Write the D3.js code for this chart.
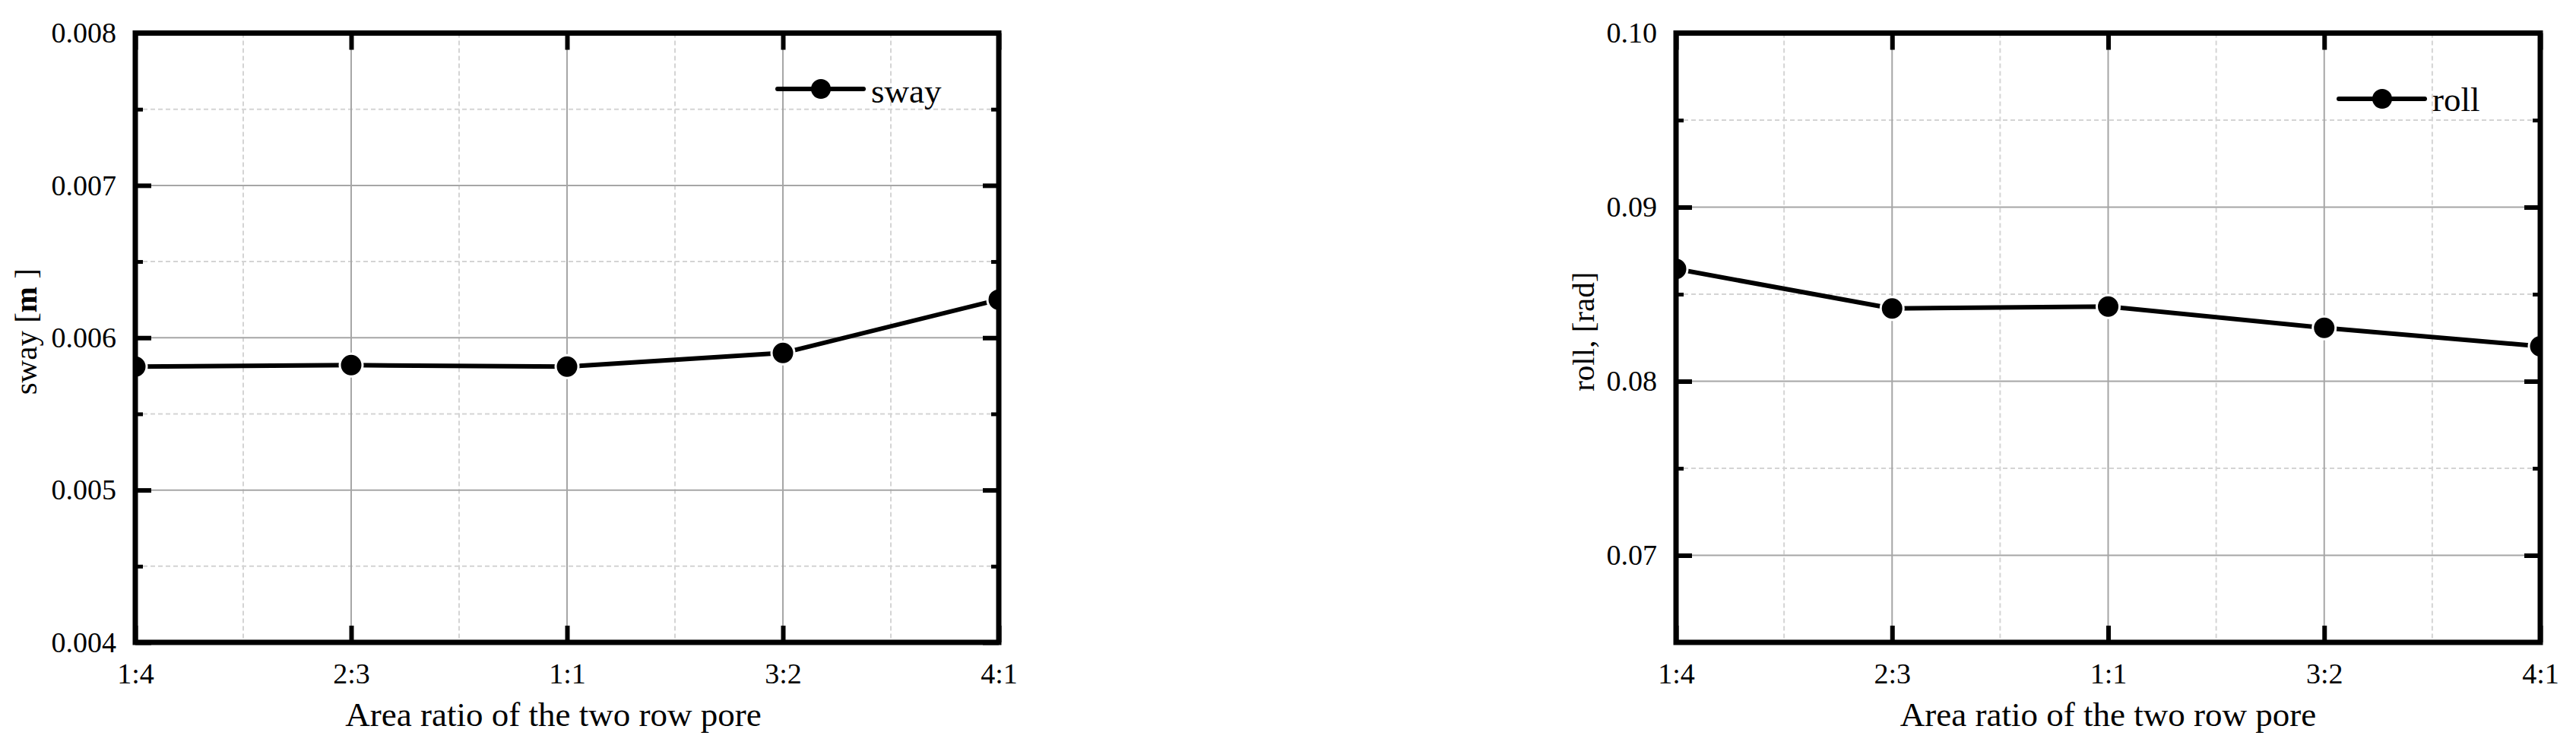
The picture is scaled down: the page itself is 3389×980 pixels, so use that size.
<!DOCTYPE html>
<html>
<head>
<meta charset="utf-8">
<script src="https://cdn.jsdelivr.net/npm/d3@7"></script>
<style>
  body { margin: 0; background: #fff; }
  text { font-family: "Liberation Serif", "Times New Roman", serif; fill: #000; }
</style>
</head>
<body>
<div id="chart"></div>
<script>
// data
const categories = ['1:4', '2:3', '1:1', '3:2', '4:1'];
const swayValues = [0.00581, 0.00582, 0.00581, 0.00590, 0.00625];
const rollValues = [0.08645, 0.08418, 0.08429, 0.08307, 0.08201];
const swayTicks = [0.004, 0.005, 0.006, 0.007, 0.008];
const swayMinor = [0.0045, 0.0055, 0.0065, 0.0075];
const rollTicks = [0.07, 0.08, 0.09, 0.10];
const rollMinor = [0.075, 0.085, 0.095];
const xTitle = 'Area ratio of the two row pore';

const svg = d3.select('#chart').append('svg')
  .attr('width', 3389)
  .attr('height', 980);

function drawPanel(cfg) {
  const w = cfg.right - cfg.left;
  const h = cfg.bottom - cfg.top;

  const x = d3.scalePoint().domain(categories).range([0, w]);
  const y = d3.scaleLinear().domain(cfg.domain).range([h, 0]);

  const g = svg.append('g')
    .attr('transform', `translate(${cfg.left},${cfg.top})`);

  g.append('clipPath').attr('id', cfg.id + '-clip')
    .append('rect').attr('width', w).attr('height', h);

  // minor (dashed) grid
  const xs = categories.map(c => x(c));
  const xMid = d3.pairs(xs).map(p => (p[0] + p[1]) / 2);
  g.append('g').selectAll('line').data(xMid).join('line')
    .attr('x1', d => d).attr('x2', d => d).attr('y1', 0).attr('y2', h)
    .attr('stroke', '#d4d4d4').attr('stroke-width', 2).attr('stroke-dasharray', '6,4');
  g.append('g').selectAll('line').data(cfg.minor).join('line')
    .attr('x1', 0).attr('x2', w).attr('y1', d => y(d)).attr('y2', d => y(d))
    .attr('stroke', '#d4d4d4').attr('stroke-width', 2).attr('stroke-dasharray', '6,4');

  // major grid
  g.append('g').selectAll('line').data(categories.slice(1, -1)).join('line')
    .attr('x1', d => x(d)).attr('x2', d => x(d)).attr('y1', 0).attr('y2', h)
    .attr('stroke', '#a6a6a6').attr('stroke-width', 2);
  g.append('g').selectAll('line').data(cfg.ticks).join('line')
    .attr('x1', 0).attr('x2', w).attr('y1', d => y(d)).attr('y2', d => y(d))
    .attr('stroke', '#a6a6a6').attr('stroke-width', 2);

  // series
  const plot = g.append('g').attr('clip-path', `url(#${cfg.id}-clip)`);
  const line = d3.line().x((d, i) => x(categories[i])).y(d => y(d));
  plot.append('path')
    .datum(cfg.values)
    .attr('d', line)
    .attr('fill', 'none')
    .attr('stroke', '#000')
    .attr('stroke-width', 6);
  plot.selectAll('circle').data(cfg.values).join('circle')
    .attr('cx', (d, i) => x(categories[i]))
    .attr('cy', d => y(d))
    .attr('r', 15)
    .attr('fill', '#000')
    .attr('stroke', '#fff')
    .attr('stroke-width', 3);

  // axes: inward ticks on all four sides
  const styleAxis = (a, width) => {
    a.select('.domain').remove();
    a.selectAll('.tick line').attr('stroke', '#000').attr('stroke-width', width);
    a.selectAll('.tick text').style('font-size', '38px');
  };
  const left = g.append('g')
    .call(d3.axisLeft(y).tickValues(cfg.ticks).tickSize(-21).tickPadding(25).tickFormat(d3.format(cfg.fmt)));
  styleAxis(left, 6);
  const right = g.append('g').attr('transform', `translate(${w},0)`)
    .call(d3.axisRight(y).tickValues(cfg.ticks).tickSize(-21).tickFormat(''));
  styleAxis(right, 6);
  const leftMinor = g.append('g')
    .call(d3.axisLeft(y).tickValues(cfg.minor).tickSize(-10).tickFormat(''));
  styleAxis(leftMinor, 5);
  const rightMinor = g.append('g').attr('transform', `translate(${w},0)`)
    .call(d3.axisRight(y).tickValues(cfg.minor).tickSize(-10).tickFormat(''));
  styleAxis(rightMinor, 5);
  const bottom = g.append('g').attr('transform', `translate(0,${h})`)
    .call(d3.axisBottom(x).tickSize(-22).tickPadding(27));
  styleAxis(bottom, 6);
  const top = g.append('g')
    .call(d3.axisTop(x).tickSize(-22).tickFormat(''));
  styleAxis(top, 6);

  // frame
  g.append('rect')
    .attr('width', w).attr('height', h)
    .attr('fill', 'none').attr('stroke', '#000').attr('stroke-width', 7);

  // axis titles
  g.append('text')
    .attr('x', w / 2 + cfg.titleShift).attr('y', h + 110)
    .attr('text-anchor', 'middle')
    .style('font-size', '45px')
    .text(xTitle);

  const yl = g.append('text')
    .attr('transform', `translate(${cfg.yLabelX},${h / 2 - 8}) rotate(-90)`)
    .attr('text-anchor', 'middle')
    .style('font-size', '41px');
  cfg.yLabel.forEach(part => {
    yl.append('tspan').attr('font-weight', part.bold ? 'bold' : 'normal').text(part.t);
  });

  // legend
  const lg = g.append('g').attr('transform', `translate(${cfg.legend[0]},${cfg.legend[1]})`);
  lg.append('line').attr('x1', 0).attr('x2', 113).attr('y1', 0).attr('y2', 0)
    .attr('stroke', '#000').attr('stroke-width', 6).attr('stroke-linecap', 'round');
  lg.append('circle').attr('cx', 57).attr('cy', 0).attr('r', 13).attr('fill', '#000');
  lg.append('text').attr('x', 123).attr('y', cfg.legendDy)
    .style('font-size', '45px')
    .text(cfg.name);
}

drawPanel({
  id: 'sway', left: 178, right: 1314, top: 43.5, bottom: 845,
  domain: [0.004, 0.008], ticks: swayTicks, minor: swayMinor, fmt: '.3f',
  values: swayValues, name: 'sway',
  yLabel: [{t: 'sway ['}, {t: 'm', bold: true}, {t: ' ]'}],
  yLabelX: -130, titleShift: -18,
  legend: [845, 73.5], legendDy: 18
});

drawPanel({
  id: 'roll', left: 2205, right: 3342, top: 43.5, bottom: 845,
  domain: [0.065, 0.10], ticks: rollTicks, minor: rollMinor, fmt: '.2f',
  values: rollValues, name: 'roll',
  yLabel: [{t: 'roll, [rad]'}],
  yLabelX: -108, titleShift: 0,
  legend: [872, 86.5], legendDy: 16
});
</script>
</body>
</html>
